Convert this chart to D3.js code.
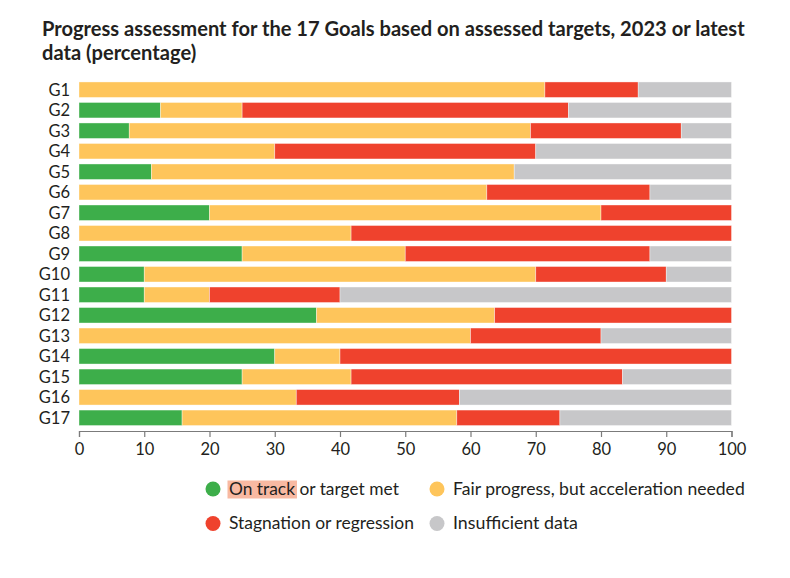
<!DOCTYPE html>
<html>
<head>
<meta charset="utf-8">
<script src="https://cdn.jsdelivr.net/npm/d3@7"></script>
<style>
  html, body { margin: 0; padding: 0; background: #fff; }
  svg { display: block; }
  text { font-family: Lato, "Open Sans", sans-serif; fill: #231f20; }
</style>
</head>
<body>
<svg id="chart" width="790" height="578"></svg>
<script>
// ---- data ----
const goals = ["G1","G2","G3","G4","G5","G6","G7","G8","G9","G10","G11","G12","G13","G14","G15","G16","G17"];
const onTrack      = [0, 12.5, 7.7, 0, 11.1, 0, 20, 0, 25, 10, 10, 36.4, 0, 30, 25, 0, 15.8];
const fairProgress = [71.4, 12.5, 61.5, 30, 55.6, 62.5, 60, 41.7, 25, 60, 10, 27.3, 60, 10, 16.7, 33.3, 42.1];
const stagnation   = [14.3, 50, 23.1, 40, 0, 25, 20, 58.3, 37.5, 20, 20, 36.3, 20, 60, 41.6, 25, 15.8];
const insufficient = [14.3, 25, 7.7, 30, 33.3, 12.5, 0, 0, 12.5, 10, 60, 0, 20, 0, 16.7, 41.7, 26.3];
const seriesNames  = ["On track or target met", "Fair progress, but acceleration needed", "Stagnation or regression", "Insufficient data"];
const seriesColors = ["#3dae4a", "#fec55b", "#ef422d", "#c7c7c9"];
const xTicks = [0,10,20,30,40,50,60,70,80,90,100];
const titleLines = ["Progress assessment for the 17 Goals based on assessed targets, 2023 or latest", "data (percentage)"];

const svg = d3.select("#chart");

// ---- title ----
const titleG = svg.append("g").attr("transform", "translate(42,0)");
const t1 = titleG.append("text").attr("x", 0).attr("y", 36.5)
  .attr("font-size", 20).attr("font-weight", 700).text(titleLines[0]);
titleG.append("text").attr("x", 0).attr("y", 60)
  .attr("font-size", 20).attr("font-weight", 700).text(titleLines[1]);
const natural = t1.node().getComputedTextLength();
const k = 703 / natural;
titleG.attr("transform", `translate(42,0) scale(${k},1)`);

// ---- scales ----
const x = d3.scaleLinear().domain([0, 100]).range([79, 731.5]);
const y = d3.scaleBand().domain(goals).range([79.5, 428]).paddingInner(0.245).paddingOuter(0.12);

const rows = goals.map((g, i) => ({
  goal: g, v: [onTrack[i], fairProgress[i], stagnation[i], insufficient[i]]
}));
const keys = [0,1,2,3];
const stack = d3.stack().keys(keys).value((d, key) => d.v[key]);
const stacked = stack(rows);

const barsG = svg.append("g");
barsG.selectAll("g.series").data(stacked).join("g")
  .attr("class", "series")
  .attr("fill", (d, i) => seriesColors[i])
  .selectAll("rect").data(d => d.filter(s => s[1] - s[0] > 0)).join("rect")
  .attr("x", d => x(d[0]))
  .attr("width", d => x(d[1]) - x(d[0]))
  .attr("y", d => y(d.data.goal))
  .attr("height", y.bandwidth())
  .attr("stroke", "#fff").attr("stroke-opacity", 0.55).attr("stroke-width", 0.7);

// ---- y labels ----
svg.append("g").selectAll("text").data(goals).join("text")
  .attr("x", 70).attr("y", d => y(d) + y.bandwidth() / 2)
  .attr("dy", "0.36em").attr("text-anchor", "end")
  .attr("font-size", 16.5).text(d => d);

// ---- x axis ----
const xAxis = svg.append("g").attr("transform", "translate(0,431)")
  .call(d3.axisBottom(x).tickValues(xTicks).tickSize(6).tickPadding(6).tickFormat(d3.format("d")));
xAxis.select(".domain").attr("stroke", "#7b7b7b").attr("stroke-width", 1.2);
xAxis.selectAll(".tick line").attr("stroke", "#7b7b7b").attr("stroke-width", 1.2);
xAxis.selectAll(".tick text").attr("font-size", 16.5).attr("font-family", "Lato, sans-serif").attr("fill", "#231f20");

// ---- legend ----
const legendPos = [[213, 489], [437, 489], [213, 523.5], [437, 523.5]];
const legendWidths = [170, 292, 185, 125];
const legend = svg.append("g");
seriesNames.forEach((name, i) => {
  const [cx, cy] = legendPos[i];
  legend.append("circle").attr("cx", cx).attr("cy", cy).attr("r", 7.5).attr("fill", seriesColors[i]);
  const g = legend.append("g");
  let hl = null;
  if (i === 0) hl = g.append("rect").attr("fill", "#f8b9a2");
  const t = g.append("text").attr("x", 0).attr("y", 5.8).attr("font-size", 17).text(name);
  const s = legendWidths[i] / t.node().getComputedTextLength();
  g.attr("transform", `translate(${cx + 16},${cy}) scale(${s},1)`);
  if (hl) {
    const w = t.node().getSubStringLength(0, 8);
    hl.attr("x", -1.5 / s).attr("y", -8.5).attr("width", w + 3.5 / s).attr("height", 18);
  }
});
</script>
</body>
</html>
